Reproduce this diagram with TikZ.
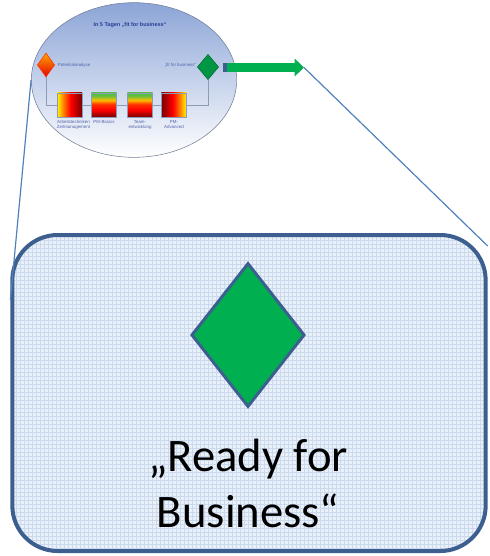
\documentclass[tikz,border=0pt]{standalone}
\usepackage{fontspec}
\setmainfont{Carlito}
\newfontfamily\smallsans{Liberation Sans}
\usetikzlibrary{shapes.geometric, arrows.meta, positioning, calc, patterns}
\definecolor{frameblue}{RGB}{61,95,143}
\definecolor{zoomfill}{RGB}{214,226,243}
\definecolor{lineblue}{RGB}{79,129,189}
\definecolor{okgreen}{RGB}{0,176,80}
\definecolor{titleblue}{RGB}{40,60,150}
\definecolor{flowgray}{RGB}{140,155,185}
\definecolor{darkred}{RGB}{120,0,0}
\definecolor{leafgreen}{RGB}{90,190,70}
% colour runs of the four modules
\pgfdeclarehorizontalshading{warmright}{100bp}{color(0bp)=(yellow); color(25bp)=(yellow); color(38bp)=(orange); color(52bp)=(red); color(75bp)=(darkred); color(100bp)=(darkred)}
\pgfdeclarehorizontalshading{warmleft}{100bp}{color(0bp)=(darkred); color(25bp)=(darkred); color(48bp)=(red); color(62bp)=(orange); color(75bp)=(yellow); color(100bp)=(yellow)}
\pgfdeclareverticalshading{greentop}{100bp}{color(0bp)=(darkred); color(25bp)=(darkred); color(40bp)=(red); color(52bp)=(red!60!orange); color(60bp)=(orange!50!yellow); color(70bp)=(leafgreen); color(75bp)=(leafgreen); color(100bp)=(leafgreen)}

\begin{document}
\begin{tikzpicture}[
        x=0.75pt, y=-0.75pt,
        module/.style={rectangle, draw=flowgray, minimum width=19pt, minimum height=18pt, inner sep=0pt},
        caption/.style={font=\smallsans\fontsize{3.3}{3.9}\selectfont, text=titleblue!80, align=center, inner sep=0.5pt},
        gate/.style={diamond, inner sep=0pt}
    ]
        \useasboundingbox (0,0) rectangle (489,556);
        % overview ellipse
        \node[ellipse, draw=flowgray!80!black, top color={rgb,255:red,140;green,165;blue,215}, bottom color=white, minimum width=154pt, minimum height=116pt] (overview) at (134,80) {};
        \node[font=\smallsans\fontsize{4.1}{5}\selectfont\bfseries, text=titleblue] (title) at (130,25) {In 5 Tagen „fit for business“};

        \node[gate, top color=orange!70!yellow, bottom color=red!90!black, draw=red!60!orange, minimum width=13pt, minimum height=18pt] (pot) at (46,65) {};
        \node[caption, anchor=west] (potlabel) at (57,65) {Potentialanalyse};
        \node[gate, fill=okgreen!85!black, draw=okgreen!60!black, minimum width=16pt, minimum height=19pt] (fit) at (208,67) {};
        \node[caption, anchor=east] (fitlabel) at (197,65) {„fit for business“};

        \node[module, shading=warmright] (arbeit) at (69.5,105) {};
        \node[module, shading=greentop] (basics) at (104,105) {};
        \node[module, shading=greentop] (team) at (140,105) {};
        \node[module, shading=warmleft] (advanced) at (174,105) {};

        \node[caption, below=1.5pt of arbeit, xshift=3pt] {Arbeitstechniken\\Zeitmanagement};
        \node[caption, below=1.5pt of basics] {PM-Basics};
        \node[caption, below=1.5pt of team] {Team-\\entwicklung};
        \node[caption, below=1.5pt of advanced] {PM-\\Advanced};

        \draw[flowgray, line width=0.6pt] (pot.south) |- (arbeit.west);
        \draw[flowgray, line width=0.6pt] (arbeit) -- (basics);
        \draw[flowgray, line width=0.6pt] (basics) -- (team);
        \draw[flowgray, line width=0.6pt] (team) -- (advanced);
        \draw[flowgray, line width=0.6pt] (advanced.east) -| (fit.south);

        % arrow out of the ellipse
        \coordinate (arrowstart) at (223,67.5);
        \coordinate (arrowend) at (304,67.5);
        \draw[okgreen, line width=7pt, -{Triangle[length=7pt, width=13pt]}] (arrowstart) -- (arrowend);
        \fill[frameblue] (223,62.8) rectangle (227,72.2);

        % zoomed detail
        \node[rectangle, rounded corners=34pt, draw=frameblue, line width=3pt, preaction={fill=zoomfill!50!white}, pattern=grid, pattern color=lineblue!30, minimum width=355pt, minimum height=237pt] (detail) at (249,393) {};
        \node[gate, fill=okgreen, draw=frameblue, line width=2.2pt, minimum width=85pt, minimum height=108pt] (ready) at (248,335) {};
        \node[font=\fontsize{35}{42}\selectfont, align=center] (readylabel) at (248,483) {„Ready for\\Business“};

        \draw[lineblue, line width=0.9pt] (overview.west) -- (detail.west |- 0,300);
        \draw[lineblue, line width=0.9pt] (arrowend) -- (detail.east |- 0,246);
\end{tikzpicture}
\end{document}
